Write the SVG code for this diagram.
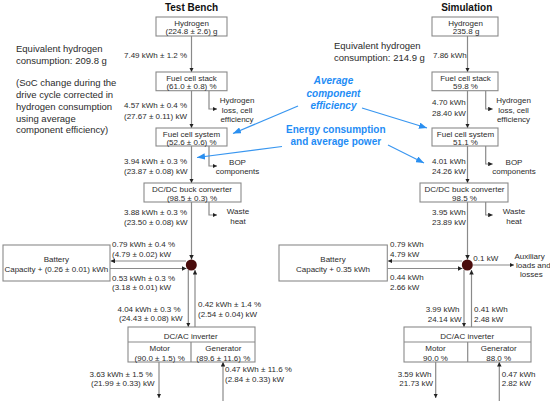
<svg xmlns="http://www.w3.org/2000/svg" width="550" height="401" viewBox="0 0 550 401">
<style>
text{font-family:"Liberation Sans",Arial,sans-serif;fill:#2b2b2b;font-size:8px}
.t{font-size:10px;font-weight:bold;fill:#111;text-anchor:middle}
.n{font-size:9.5px}
.m{text-anchor:middle}
.e{text-anchor:end}
.b{font-size:10px;font-weight:bold;font-style:italic;fill:#1e8cf5;text-anchor:middle}
.bb{font-size:10px;font-weight:bold;fill:#1e8cf5;text-anchor:middle}
.box{fill:#fff;stroke:#8a8a8a;stroke-width:1.1}
.c{fill:none;stroke:#8a8a8a;stroke-width:1.2}
.a{marker-end:url(#ah)}
.bl{fill:none;stroke:#3896f0;stroke-width:1.2;marker-end:url(#bh)}
.j{fill:#4a0c0c}
</style>
<defs>
<marker id="ah" viewBox="0 0 6 6" refX="6" refY="3" markerWidth="4.5" markerHeight="4.5" orient="auto" markerUnits="userSpaceOnUse"><path d="M0,0 L6,3 L0,6 z" fill="#222"/></marker>
<marker id="bh" viewBox="0 0 10 8" refX="10" refY="4" markerWidth="8" markerHeight="6.4" orient="auto" markerUnits="userSpaceOnUse"><path d="M0,0 L10,4 L0,8 z" fill="#2a8ff0"/></marker>
</defs>

<text class="t" x="191.5" y="11">Test Bench</text>
<text class="t" x="466.7" y="11">Simulation</text>

<g id="notes-left">
<text class="n" x="16" y="52">Equivalent hydrogen</text>
<text class="n" x="16" y="64">consumption: 209.8 g</text>
<text class="n" x="16" y="86">(SoC change during the</text>
<text class="n" x="16" y="98">drive cycle corrected in</text>
<text class="n" x="16" y="110">hydrogen consumption</text>
<text class="n" x="16" y="121.5">using average</text>
<text class="n" x="16" y="133">component efficiency)</text>
</g>
<g id="notes-right">
<text class="n" x="334" y="48.5">Equivalent hydrogen</text>
<text class="n" x="334" y="60.5">consumption: 214.9 g</text>
</g>

<g id="connectors">
<path class="c a" d="M191.5 36V72"/>
<path class="c a" d="M191.5 90.7V128"/>
<path class="c a" d="M191.5 146V183"/>
<path class="c a" d="M191.5 202V259.5"/>
<path class="c a" d="M209 90.7V109H217"/>
<path class="c a" d="M209 146V166H217"/>
<path class="c a" d="M209 202V215H217"/>
<path class="c a" d="M186 261H110.5"/>
<path class="c a" d="M110 268.5H186.5"/>
<path class="c a" d="M188.3 270V327"/>
<path class="c a" d="M195 327V270"/>
<path class="c a" d="M159 362V398"/>
<path class="c a" d="M223 401V362"/>

<path class="c a" d="M467.5 36V72"/>
<path class="c a" d="M467.5 90.7V128"/>
<path class="c a" d="M467.5 146V183"/>
<path class="c a" d="M467.5 202V259.5"/>
<path class="c a" d="M485.7 90.7V109H492.7"/>
<path class="c a" d="M485.7 146V164H492.7"/>
<path class="c a" d="M485.7 202V215H492.7"/>
<path class="c a" d="M462 261H387.8"/>
<path class="c a" d="M387.3 268.5H462.5"/>
<path class="c a" d="M473 265H514"/>
<path class="c a" d="M464 270V327"/>
<path class="c a" d="M471.5 327V270"/>
<path class="c a" d="M435.7 362V398"/>
<path class="c a" d="M499.3 401V362"/>

<path class="bl" d="M298 106L233 133.5"/>
<path class="bl" d="M362 108L427 128"/>
<path class="bl" d="M282 146.5L197 157.5"/>
<path class="bl" d="M388 145L424 163"/>
</g>

<g id="labels-left">
<text x="124" y="58">7.49 kWh ± 1.2 %</text>
<text x="124" y="108">4.57 kWh ± 0.4 %</text>
<text x="124" y="119">(27.67 ± 0.11) kW</text>
<text x="124" y="164">3.94 kWh ± 0.3 %</text>
<text x="124" y="174">(23.87 ± 0.08) kW</text>
<text x="124" y="215">3.88 kWh ± 0.3 %</text>
<text x="124" y="225">(23.50 ± 0.08) kW</text>
<text class="m" x="237" y="103">Hydrogen</text>
<text class="m" x="237" y="112.5">loss, cell</text>
<text class="m" x="237" y="122">efficiency</text>
<text class="m" x="237.5" y="164.5">BOP</text>
<text class="m" x="237.5" y="174">components</text>
<text class="m" x="238" y="214">Waste</text>
<text class="m" x="238" y="224">heat</text>
<text x="112" y="247">0.79 kWh ± 0.4 %</text>
<text x="112" y="257">(4.79 ± 0.02) kW</text>
<text x="112" y="281">0.53 kWh ± 0.3 %</text>
<text x="112" y="290">(3.18 ± 0.01) kW</text>
<text x="117.5" y="312">4.04 kWh ± 0.3 %</text>
<text x="119" y="321">(24.43 ± 0.08) kW</text>
<text x="198" y="307">0.42 kWh ± 1.4 %</text>
<text x="198" y="317">(2.54 ± 0.04) kW</text>
<text x="89.5" y="377">3.63 kWh ± 1.5 %</text>
<text x="91" y="386">(21.99 ± 0.33) kW</text>
<text x="225" y="372">0.47 kWh ± 11.6 %</text>
<text x="225" y="382">(2.84 ± 0.33) kW</text>
</g>

<g id="labels-right">
<text x="433" y="58">7.86 kWh</text>
<text x="432" y="105">4.70 kWh</text>
<text x="432" y="116">28.40 kW</text>
<text x="432" y="164">4.01 kWh</text>
<text x="432" y="174">24.26 kW</text>
<text x="432" y="215">3.95 kWh</text>
<text x="432" y="225">23.89 kW</text>
<text class="m" x="513.5" y="103">Hydrogen</text>
<text class="m" x="513.5" y="112.5">loss, cell</text>
<text class="m" x="513.5" y="122">efficiency</text>
<text class="m" x="514" y="164.5">BOP</text>
<text class="m" x="514" y="174">components</text>
<text class="m" x="514" y="214">Waste</text>
<text class="m" x="514" y="224">heat</text>
<text x="390" y="247">0.79 kWh</text>
<text x="390" y="257">4.79 kW</text>
<text x="390" y="280">0.44 kWh</text>
<text x="390" y="290">2.66 kW</text>
<text x="473.3" y="261">0.1 kW</text>
<text x="514.5" y="259">Auxiliary</text>
<text x="516" y="268">loads and</text>
<text x="520" y="277">losses</text>
<text x="425.7" y="312">3.99 kWh</text>
<text x="427.7" y="322">24.14 kW</text>
<text x="474" y="312">0.41 kWh</text>
<text x="474" y="322">2.48 kW</text>
<text x="397.7" y="377">3.59 kWh</text>
<text x="399.3" y="386">21.73 kW</text>
<text x="501.7" y="377">0.47 kWh</text>
<text x="501.7" y="386">2.82 kW</text>
</g>

<g id="blue-labels">
<text class="b" x="333.5" y="84">Average</text>
<text class="b" x="333.5" y="96.5">component</text>
<text class="b" x="333.5" y="108.5">efficiency</text>
<text class="bb" x="335.8" y="133">Energy consumption</text>
<text class="bb" x="335.8" y="145">and average power</text>
</g>

<g id="tb-hydrogen"><rect class="box" x="156" y="17" width="71" height="19"/><text class="m" x="191.5" y="25.5">Hydrogen</text><text class="m" x="191.5" y="34">(224.8 ± 2.6) g</text></g>
<g id="tb-stack"><rect class="box" x="156" y="72" width="71" height="18.7"/><text class="m" x="191.5" y="80.8">Fuel cell stack</text><text class="m" x="191.5" y="89.3">(61.0 ± 0.8) %</text></g>
<g id="tb-system"><rect class="box" x="156" y="128" width="71" height="18"/><text class="m" x="191.5" y="136.5">Fuel cell system</text><text class="m" x="191.5" y="145">(52.6 ± 0.6) %</text></g>
<g id="tb-dcdc"><rect class="box" x="144" y="183" width="97" height="19"/><text class="m" x="192" y="191.8">DC/DC buck converter</text><text class="m" x="192" y="200.5">(98.5 ± 0.3) %</text></g>
<g id="tb-battery"><rect class="box" x="3" y="245" width="107" height="36"/><text class="m" x="56.3" y="262">Battery</text><text class="m" x="56.3" y="272">Capacity + (0.26 ± 0.01) kWh</text></g>
<g id="tb-junction"><circle class="j" cx="191.3" cy="265" r="5.5"/></g>
<g id="tb-dcac"><rect class="box" x="128" y="327" width="127" height="35"/><path class="c" d="M128 342H255M191 342V362"/><text class="m" x="190.7" y="339">DC/AC inverter</text><text class="m" x="159.7" y="351">Motor</text><text class="m" x="159.7" y="360.5">(90.0 ± 1.5) %</text><text class="m" x="223.3" y="351">Generator</text><text class="m" x="223.3" y="360.5">(89.6 ± 11.6) %</text></g>

<g id="sim-hydrogen"><rect class="box" x="432" y="17" width="66" height="19"/><text class="m" x="465.5" y="25.5">Hydrogen</text><text class="m" x="466" y="34">235.8 g</text></g>
<g id="sim-stack"><rect class="box" x="432" y="72" width="66" height="18.7"/><text class="m" x="465.5" y="80.8">Fuel cell stack</text><text class="m" x="465.5" y="89.3">59.8 %</text></g>
<g id="sim-system"><rect class="box" x="432" y="128" width="66" height="18"/><text class="m" x="465.5" y="136.5">Fuel cell system</text><text class="m" x="465.5" y="145">51.1 %</text></g>
<g id="sim-dcdc"><rect class="box" x="420" y="183" width="88" height="19"/><text class="m" x="464.5" y="191.8">DC/DC buck converter</text><text class="m" x="464.5" y="200.5">98.5 %</text></g>
<g id="sim-battery"><rect class="box" x="279" y="245" width="108.3" height="36"/><text class="m" x="333" y="262">Battery</text><text class="m" x="333" y="272">Capacity + 0.35 kWh</text></g>
<g id="sim-junction"><circle class="j" cx="467.3" cy="265" r="5.5"/></g>
<g id="sim-dcac"><rect class="box" x="404" y="327" width="127" height="35"/><path class="c" d="M404 342H531M467.7 342V362"/><text class="m" x="467.2" y="339">DC/AC inverter</text><text class="m" x="435.5" y="351">Motor</text><text class="m" x="435.5" y="360.5">90.0 %</text><text class="m" x="498.7" y="351">Generator</text><text class="m" x="498.7" y="360.5">88.0 %</text></g>
</svg>
